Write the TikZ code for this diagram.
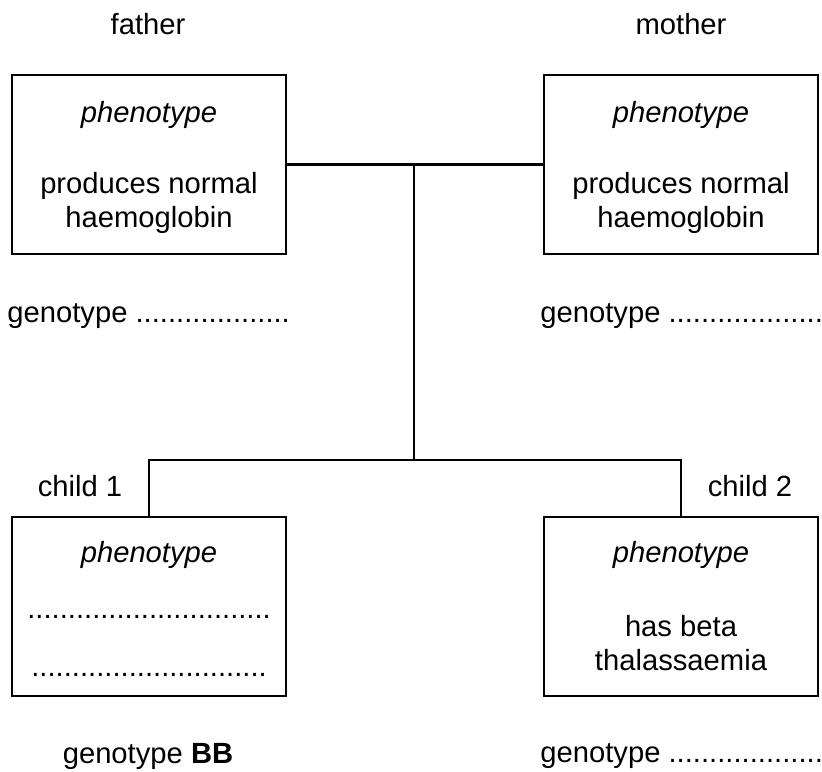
\documentclass[tikz,border=0pt]{standalone}
\usepackage{fontspec}
\setmainfont{Liberation Sans}
\usetikzlibrary{positioning}
\tikzset{
  famblock/.style={draw,line width=1.3pt,minimum width=137pt,minimum height=89.5pt,inner sep=0pt},
  famtext/.style={inner sep=0pt,font=\fontsize{14.6}{17.3}\selectfont},
  famline/.style={line width=1.3pt}
}
\begin{document}
\begin{tikzpicture}[x=0.5pt,y=-0.5pt]
\useasboundingbox (0,0) rectangle (822,771);
\pgfmathsetmacro{\kl}{149}
\pgfmathsetmacro{\kr}{681}
\pgfmathsetmacro{\kt}{164.5}
\pgfmathsetmacro{\kb}{606.5}
%
\node[famblock] (father) at (\kl,\kt) {};
\node[famblock] (mother) at (\kr,\kt) {};
\node[famblock] (child1) at (\kl,\kb) {};
\node[famblock] (child2) at (\kr,\kb) {};
%
\node[famtext] (fatherlbl) at (148,24) {father};
\node[famtext] (motherlbl) at (681,24) {mother};
\node[famtext] (child1lbl) at (80,486) {child 1};
\node[famtext] (child2lbl) at (750,486) {child 2};
%
\node[famtext] (fphen) at (\kl,115) {\itshape phenotype};
\node[famtext,align=center] (fdesc) at (\kl,203) {produces normal\\haemoglobin};
\node[famtext] (mphen) at (\kr,115) {\itshape phenotype};
\node[famtext,align=center] (mdesc) at (\kr,203) {produces normal\\haemoglobin};
\node[famtext,anchor=west] (fgeno) at (7,316) {genotype ...................};
\node[famtext,anchor=west] (mgeno) at (540,316) {genotype ...................};
%
\node[famtext] (c1phen) at (\kl,555) {\itshape phenotype};
\node[famtext] (c1dotsa) at (\kl,617) {..............................};
\node[famtext] (c1dotsb) at (\kl,675) {.............................};
\node[famtext] (c2phen) at (\kr,555) {\itshape phenotype};
\node[famtext,align=center] (c2desc) at (\kr,643) {has beta\\thalassaemia};
\node[famtext] (c1geno) at (148,756) {genotype \textbf{BB}};
\node[famtext,anchor=west] (c2geno) at (540,756) {genotype ...................};
%
\coordinate (mate) at (414,\kt);
\coordinate (kids) at (414,460);
\draw[famline] (father.east) -- (mother.west);
\draw[famline] (mate) -- (kids);
\draw[famline] (child1.north) |- (kids) -| (child2.north);
\end{tikzpicture}
\end{document}
